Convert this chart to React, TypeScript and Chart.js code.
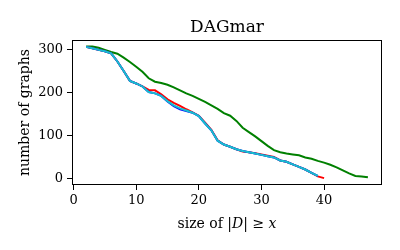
import React, { useEffect, useRef } from "react";
import { Chart, registerables } from "chart.js";

Chart.register(...registerables);

const xs = [2, 3, 4, 5, 6, 7, 8, 9, 10, 11, 12, 13, 14, 15, 16, 17, 18, 19, 20, 21, 22, 23, 24, 25, 26, 27, 28, 29, 30, 31, 32, 33, 34, 35, 36, 37, 38, 39, 40, 41, 42, 43, 44, 45, 46, 47];

const redValues = [306, 303, 299, 296, 291, 272, 250, 227, 221, 214, 206, 205, 196, 184, 176, 169, 161, 154, 146, 130, 113, 89, 79, 74, 68, 63, 61, 59, 56, 53, 50, 42, 39, 33, 27, 21, 13, 5, 1];
const blueValues = [306, 303, 299, 296, 291, 272, 250, 227, 221, 214, 201, 198, 192, 179, 168, 161, 157, 153, 145, 128, 112, 88, 79, 74, 68, 64, 61, 58, 55, 52, 49, 42, 39, 33, 27, 21, 13, 6];
const cyanValues = [306, 303, 299, 296, 291, 272, 250, 227, 221, 214, 201, 198, 192, 180, 170, 163, 158, 153, 145, 128, 112, 88, 79, 74, 68, 64, 61, 58, 55, 52, 49, 42, 39, 33, 27, 21, 13, 6];
const greenValues = [307, 307, 304, 299, 294, 290, 281, 271, 260, 248, 233, 225, 222, 218, 212, 205, 198, 192, 185, 178, 170, 162, 152, 146, 134, 118, 108, 98, 87, 76, 66, 61, 58, 56, 54, 49, 46, 41, 37, 32, 26, 19, 12, 6, 5, 3];

const xTicks = [0, 10, 20, 30, 40];
const yTicks = [0, 100, 200, 300];

const titleText = "DAGmar";
const yLabel = "number of graphs";

const FONT = "'DejaVu Serif', 'Liberation Serif', serif";

function pts(values: number[]) {
  return values.map((v, i) => ({ x: xs[i], y: v }));
}

const textPlugin = {
  id: "texts",
  afterDraw(chart: any) {
    const ctx = chart.ctx as CanvasRenderingContext2D;
    const a = chart.chartArea;
    ctx.save();
    ctx.strokeStyle = "#000";
    ctx.lineWidth = 1;
    ctx.strokeRect(Math.round(a.left) + 0.5, Math.round(a.top) + 0.5, Math.round(a.right - a.left) - 1, Math.round(a.bottom - a.top) - 1);
    const cx = (a.left + a.right) / 2;
    ctx.fillStyle = "#000";
    ctx.font = `17px ${FONT}`;
    ctx.textAlign = "center";
    ctx.textBaseline = "alphabetic";
    ctx.fillText(titleText, cx, 32);
    const parts: [string, boolean][] = [["size of |", false], ["D", true], ["| \u2265 ", false], ["x", true]];
    let total = 0;
    const widths: number[] = [];
    for (const [t, it] of parts) {
      ctx.font = `${it ? "italic " : ""}14px ${FONT}`;
      const w = ctx.measureText(t).width;
      widths.push(w);
      total += w;
    }
    let px = cx - total / 2;
    ctx.textAlign = "left";
    parts.forEach(([t, it], i) => {
      ctx.font = `${it ? "italic " : ""}14px ${FONT}`;
      ctx.fillText(t, px, 228);
      px += widths[i];
    });
    ctx.translate(29, (a.top + a.bottom) / 2);
    ctx.rotate(-Math.PI / 2);
    ctx.font = `14px ${FONT}`;
    ctx.textAlign = "center";
    ctx.fillText(yLabel, 0, 0);
    ctx.restore();
  },
};

export default function App() {
  const ref = useRef<HTMLCanvasElement>(null);
  useEffect(() => {
    if (!ref.current) return;
    const lw = 2;
    const chart = new Chart(ref.current, {
      type: "line",
      data: {
        datasets: [
          { data: pts(cyanValues), borderColor: "#17becf", borderWidth: lw, pointRadius: 0, fill: false, tension: 0 },
          { data: pts(blueValues), borderColor: "#0000ff", borderWidth: lw, pointRadius: 0, fill: false, tension: 0 },
          { data: pts(redValues), borderColor: "#ff0000", borderWidth: lw, pointRadius: 0, fill: false, tension: 0 },
          { data: pts(greenValues), borderColor: "#008000", borderWidth: lw, pointRadius: 0, fill: false, tension: 0 },
        ],
      },
      options: {
        responsive: false,
        animation: false,
        devicePixelRatio: 1,
        layout: { padding: { top: 40, right: 18, left: 0, bottom: 0 } },
        plugins: { legend: { display: false }, tooltip: { enabled: false }, title: { display: false } },
        scales: {
          x: {
            type: "linear",
            min: -0.25,
            max: 49.25,
            afterFit: (s: any) => { s.height = 65; },
            afterBuildTicks: (s: any) => { s.ticks = xTicks.map((v) => ({ value: v })); },
            grid: { drawOnChartArea: false, drawTicks: true, tickLength: 5, color: "#000", lineWidth: 1 },
            border: { display: false },
            ticks: { color: "#000", font: { family: FONT, size: 13 }, padding: 3, maxRotation: 0 },
          },
          y: {
            type: "linear",
            min: -15,
            max: 322,
            afterFit: (s: any) => { s.width = 72; },
            afterBuildTicks: (s: any) => { s.ticks = yTicks.map((v) => ({ value: v })); },
            grid: { drawOnChartArea: false, drawTicks: true, tickLength: 5, color: "#000", lineWidth: 1 },
            border: { display: false },
            ticks: { color: "#000", font: { family: FONT, size: 13 }, padding: 4 },
          },
        },
      },
      plugins: [textPlugin],
    } as any);
    return () => chart.destroy();
  }, []);
  return (
    <div style={{ position: "absolute", left: 0, top: 0, width: 400, height: 250, background: "#fff" }}>
      <canvas ref={ref} width={400} height={250} />
    </div>
  );
}
